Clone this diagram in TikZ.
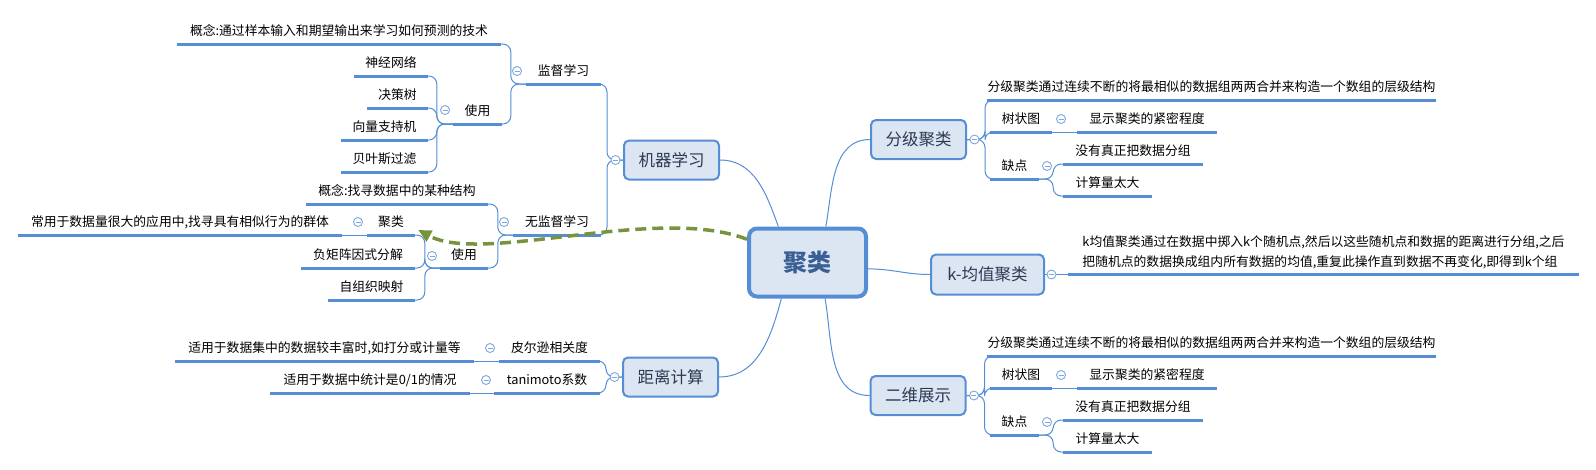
\documentclass[tikz,border=0pt]{standalone}
\usepackage{fontspec}
\setmainfont{Noto Sans CJK SC}
\usetikzlibrary{positioning,arrows.meta}

\definecolor{boxfill}{HTML}{DCE6F2}
\definecolor{boxline}{HTML}{558ED5}
\definecolor{boxtext}{HTML}{2B3A52}
\definecolor{roottext}{HTML}{3A5F95}
\definecolor{togline}{HTML}{7FA7DD}
\definecolor{flowgreen}{HTML}{77933C}

\tikzset{
  topic/.style={draw=boxline, fill=boxfill, line width=2pt, rounded corners=5pt,
    minimum width=95pt, minimum height=39pt, inner sep=0pt, text=boxtext,
    font=\fontsize{16.5}{18}\selectfont},
  root/.style={draw=boxline, fill=boxfill, line width=4pt, rounded corners=8pt,
    minimum width=117pt, minimum height=68pt, text=roottext,
    font=\fontsize{24}{26}\selectfont\bfseries},
  leaf/.style={anchor=south, inner xsep=0pt, inner ysep=5pt, text height=10pt,
    text depth=3pt, font=\fontsize{12.8}{20}\selectfont},
  uline/.style={draw=boxline, line width=3pt},
  link/.style={draw=boxline, line width=1pt},
  fork/.style={link, rounded corners=8pt},
  tog/.style={circle, draw=togline, fill=white, line width=0.9pt, minimum size=9pt,
    inner sep=0pt, path picture={\draw[togline, line width=0.9pt]
      ([xshift=-2.5pt]path picture bounding box.center) --
      ([xshift=2.5pt]path picture bounding box.center);}},
  flow/.style={draw=flowgreen, line width=3.5pt, dash pattern=on 11pt off 6pt,
    -{Triangle[length=13pt,width=12pt]}}
}

\begin{document}
\begin{tikzpicture}[x=1pt,y=-1pt]
  \useasboundingbox (0,0) rectangle (1596,469);

  % main topics
  \node[root] (root) at (807.5,262.5) {聚类};
  \node[topic] (ml) at (671.5,160) {机器学习};
  \node[topic] (dist) at (670.5,377) {距离计算};
  \node[topic] (hc) at (918.5,139.5) {分级聚类};
  \node[topic, minimum width=113pt, minimum height=40pt] (km) at (987.5,274.5) {k-均值聚类};
  \node[topic] (twod) at (918,395.5) {二维展示};

  % machine learning
  \node[leaf, minimum width=324pt] (sup-def) at (339,44) {概念:通过样本输入和期望输出来学习如何预测的技术};
  \node[leaf, minimum width=75pt] (sup) at (563.5,84) {监督学习};
  \node[leaf, minimum width=49pt] (sup-use) at (477.5,124) {使用};
  \node[leaf, minimum width=74pt] (nn) at (391,76) {神经网络};
  \node[leaf, minimum width=61pt] (dtree) at (397.5,108) {决策树};
  \node[leaf, minimum width=87pt] (svm) at (384.5,140) {向量支持机};
  \node[leaf, minimum width=87pt] (bayes) at (384.5,172) {贝叶斯过滤};
  \node[leaf, minimum width=182pt] (unsup-def) at (397,204) {概念:找寻数据中的某种结构};
  \node[leaf, minimum width=88pt] (unsup) at (557,235) {无监督学习};
  \node[leaf, minimum width=48pt] (unsup-use) at (464,268) {使用};
  \node[leaf, minimum width=48pt] (clu) at (391,235) {聚类};
  \node[leaf, minimum width=324pt] (clu-def) at (180,235) {常用于数据量很大的应用中,找寻具有相似行为的群体};
  \node[leaf, minimum width=114pt] (nmf) at (358,268) {负矩阵因式分解};
  \node[leaf, minimum width=87pt] (som) at (371.5,300) {自组织映射};

  % distance
  \node[leaf, minimum width=101pt] (prs) at (549.5,361) {皮尔逊相关度};
  \node[leaf, minimum width=299pt] (prs-def) at (324.5,361) {适用于数据集中的数据较丰富时,如打分或计量等};
  \node[leaf, minimum width=106pt] (tani) at (547,393) {tanimoto系数};
  \node[leaf, minimum width=200pt] (tani-def) at (370,393) {适用于数据中统计是0/1的情况};

  % hierarchical clustering
  \node[leaf, minimum width=443pt] (hc-def) at (1211.5,100) {分级聚类通过连续不断的将最相似的数据组两两合并来构造一个数组的层级结构};
  \node[leaf, minimum width=62pt] (hc-tree) at (1021,132) {树状图};
  \node[leaf, minimum width=140pt] (hc-show) at (1147,132) {显示聚类的紧密程度};
  \node[leaf, minimum width=49pt] (hc-con) at (1014.5,179) {缺点};
  \node[leaf, minimum width=140pt] (hc-con1) at (1133,164) {没有真正把数据分组};
  \node[leaf, minimum width=89pt] (hc-con2) at (1107.5,196) {计算量太大};

  % k-means
  \node[leaf, minimum width=511pt, align=left, text height=30pt] (km-def) at (1323.5,274.5)
    {k均值聚类通过在数据中掷入k个随机点,然后以这些随机点和数据的距离进行分组,之后\\
     把随机点的数据换成组内所有数据的均值,重复此操作直到数据不再变化,即得到k个组};

  % 2d view
  \node[leaf, minimum width=443pt] (tw-def) at (1211.5,356) {分级聚类通过连续不断的将最相似的数据组两两合并来构造一个数组的层级结构};
  \node[leaf, minimum width=62pt] (tw-tree) at (1021,388) {树状图};
  \node[leaf, minimum width=140pt] (tw-show) at (1147,388) {显示聚类的紧密程度};
  \node[leaf, minimum width=49pt] (tw-con) at (1014.5,435) {缺点};
  \node[leaf, minimum width=140pt] (tw-con1) at (1133,420) {没有真正把数据分组};
  \node[leaf, minimum width=89pt] (tw-con2) at (1107.5,452) {计算量太大};

  % links from the root
  \path[link] (root.129) to[out=110, in=0] (ml.east);
  \path[link] (root.-126) to[out=-105, in=0] (dist.east);
  \path[link] (root.63) to[out=80, in=180] (hc.west);
  \path[link] (root.-6) to[out=0, in=180] (km.west);
  \path[link] (root.-64) to[out=-80, in=180] (twod.west);

  % forks, left side
  \foreach \c in {sup, unsup}
    \path[fork] (ml.west) -- ++(-16,0) |- (\c.south east);
  \foreach \c in {sup-def, sup-use}
    \path[fork] (sup.south west) -- ++(-15,0) |- (\c.south east);
  \foreach \c in {nn, dtree, svm, bayes}
    \path[fork] (sup-use.south west) -- ++(-16,0) |- (\c.south east);
  \foreach \c in {unsup-def, unsup-use}
    \path[fork] (unsup.south west) -- ++(-15,0) |- (\c.south east);
  \foreach \c in {clu, nmf, som}
    \path[fork] (unsup-use.south west) -- ++(-15,0) |- (\c.south east);
  \path[link] (clu.south west) -- (clu-def.south east);
  \foreach \c in {prs, tani}
    \path[fork] (dist.west) -- ++(-16,0) |- (\c.south east);
  \path[link] (prs.south west) -- (prs-def.south east);
  \path[link] (tani.south west) -- (tani-def.south east);

  % forks, right side
  \foreach \p/\d/\t/\s/\n in {hc/hc-def/hc-tree/hc-show/hc-con, twod/tw-def/tw-tree/tw-show/tw-con} {
    \foreach \c in {\d, \t, \n}
      \path[fork] (\p.east) -- ++(18,0) |- (\c.south west);
    \path[link] (\t.south east) -- (\s.south west);
  }
  \foreach \c in {hc-con1, hc-con2}
    \path[fork] (hc-con.south east) -- ++(14,0) |- (\c.south west);
  \foreach \c in {tw-con1, tw-con2}
    \path[fork] (tw-con.south east) -- ++(14,0) |- (\c.south west);
  \path[link] (km.east) -- (km-def.south west);

  % underlines
  \foreach \n in {sup-def, sup, sup-use, nn, dtree, svm, bayes, unsup-def, unsup,
      unsup-use, clu, clu-def, nmf, som, prs, prs-def, tani, tani-def, hc-def,
      hc-tree, hc-show, hc-con, hc-con1, hc-con2, km-def, tw-def, tw-tree,
      tw-show, tw-con, tw-con1, tw-con2}
    \draw[uline] (\n.south west) -- (\n.south east);

  % collapse buttons
  \node[tog, left=2.5pt of ml] (t-ml) {};
  \node[tog, left=2.5pt of dist] (t-dist) {};
  \node[tog, right=2.5pt of hc] (t-hc) {};
  \node[tog, right=1.5pt of km] (t-km) {};
  \node[tog, right=2.5pt of twod] (t-twod) {};
  \node[tog] (t-sup) at (517,71) {};
  \node[tog] (t-sup-use) at (445,110) {};
  \node[tog] (t-unsup) at (504,222) {};
  \node[tog] (t-unsup-use) at (432,256) {};
  \node[tog] (t-clu) at (358,222) {};
  \node[tog] (t-prs) at (490,348) {};
  \node[tog] (t-tani) at (486,380) {};
  \node[tog] (t-hc-tree) at (1061,119) {};
  \node[tog] (t-hc-con) at (1047,166) {};
  \node[tog] (t-tw-tree) at (1061,375) {};
  \node[tog] (t-tw-con) at (1047,422) {};

  % relation
  \path[flow] (root.159) .. controls +(-90,-35) and +(65,35) .. ([xshift=3pt,yshift=5pt]clu.south east);
\end{tikzpicture}
\end{document}
